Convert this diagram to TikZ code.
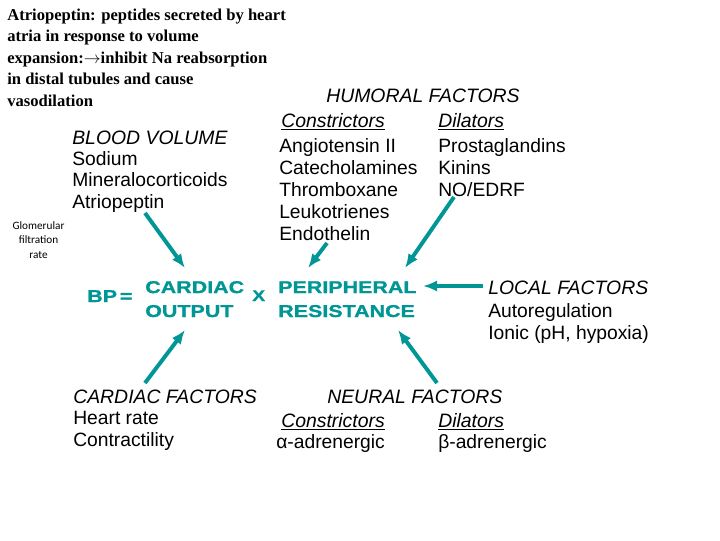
\documentclass[tikz,border=0pt]{standalone}
\usepackage{fontspec}
\setmainfont{Liberation Sans}
\newfontfamily\notefont{Liberation Serif}
\newfontfamily\tinyfont{Carlito}
\newfontfamily\bpfont{Liberation Sans}[FakeStretch=1.25,FakeBold=1]
\usepackage{xcolor}
\definecolor{teal-600}{RGB}{0,150,150}
\definecolor{gray-900}{RGB}{0,0,0}
\usetikzlibrary{arrows.meta}

\begin{document}
\begin{tikzpicture}[
    x=0.025cm, y=-0.025cm,
    every node/.style={inner sep=0pt, anchor=base west, text=gray-900},
    factor/.style={font=\fontsize{13.7}{15.6}\selectfont, align=left},
    heading/.style={font=\fontsize{13.8}{15.6}\selectfont\itshape},
    bpterm/.style={font=\bpfont\bfseries\fontsize{12.2}{17}\selectfont, text=teal-600, align=left},
    influence/.style={draw=teal-600, line width=2.8pt, -{Latex[length=10pt,width=8pt]}}
]

% Page
\fill[white] (0,0) rectangle (720,540);
\useasboundingbox (0,0) rectangle (720,540);

% Note on atriopeptin (multi-line nodes sit on their last baseline)
\node[font=\notefont\bfseries\fontsize{11.8}{15.2}\selectfont, align=left] (note) at (7,106) {%
Atriopeptin: peptides secreted by heart\\
atria in response to volume\\
expansion:{\fontsize{13}{13}\selectfont$\rightarrow$}inhibit Na reabsorption\\
in distal tubules and cause\\
vasodilation};

\node[font=\tinyfont\fontsize{8}{10}\selectfont, align=center, anchor=base] (gfr) at (38.5,258) {Glomerular\\filtration\\rate};

% Blood volume
\node[heading] (bv) at (72,144) {BLOOD VOLUME};
\node[factor, font=\fontsize{13.7}{15.2}\selectfont] (bvlist) at (72,208) {Sodium\\Mineralocorticoids\\Atriopeptin};

% Humoral factors
\node[heading] (humoral) at (326,102) {HUMORAL FACTORS};
\node[heading] (hcon) at (281,127) {\underline{Constrictors}};
\node[heading] (hdil) at (438,127) {\underline{Dilators}};
\node[factor] (hconlist) at (279,240) {Angiotensin II\\Catecholamines\\Thromboxane\\Leukotrienes\\Endothelin};
\node[factor] (hdillist) at (438,196) {Prostaglandins\\Kinins\\NO/EDRF};

% Blood pressure equation
\node[bpterm] (bp) at (87,302) {BP\,=};
\node[bpterm] (co) at (145,317) {CARDIAC\\OUTPUT};
\node[bpterm, font=\bpfont\bfseries\fontsize{11}{12}\selectfont] (times) at (252,301) {X};
\node[bpterm] (pr) at (278,317) {PERIPHERAL\\RESISTANCE};

% Local factors
\node[heading] (local) at (488,294) {LOCAL FACTORS};
\node[factor] (locallist) at (488,339) {Autoregulation\\Ionic (pH, hypoxia)};

% Cardiac factors
\node[heading] (cardiac) at (73,403) {CARDIAC FACTORS};
\node[factor] (cardiaclist) at (73,446) {Heart rate\\Contractility};

% Neural factors
\node[heading] (neural) at (327,403) {NEURAL FACTORS};
\node[heading] (ncon) at (281,427) {\underline{Constrictors}};
\node[heading] (ndil) at (438,427) {\underline{Dilators}};
\node[factor] (ncons) at (276,448) {α-adrenergic};
\node[factor] (ndils) at (438,448) {β-adrenergic};

% Arrow ends
\coordinate (bv-out) at (145,213);
\coordinate (co-top) at (185,268);
\coordinate (endo-out) at (327,243);
\coordinate (pr-top-a) at (308,268);
\coordinate (no-out) at (454,197);
\coordinate (pr-top-b) at (405,268);
\coordinate (local-out) at (483,286);
\coordinate (pr-right) at (423,286);
\coordinate (cardiac-out) at (145,383);
\coordinate (co-bottom) at (185,330);
\coordinate (neural-out) at (437,383);
\coordinate (pr-bottom) at (398,330);

% Influences
\draw[influence] (bv-out) -- (co-top);
\draw[influence] (endo-out) -- (pr-top-a);
\draw[influence] (no-out) -- (pr-top-b);
\draw[influence] (local-out) -- (pr-right);
\draw[influence] (cardiac-out) -- (co-bottom);
\draw[influence] (neural-out) -- (pr-bottom);

\end{tikzpicture}
\end{document}
